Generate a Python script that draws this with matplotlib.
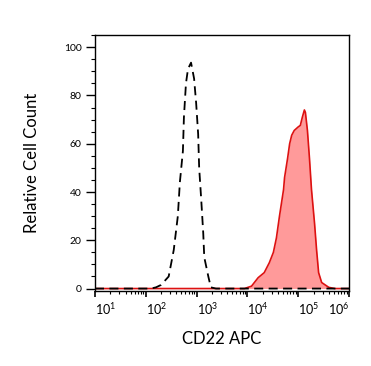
import numpy as np
import matplotlib.pyplot as plt
from matplotlib.ticker import FixedLocator, MultipleLocator, LogLocator, NullFormatter

plt.rcParams['font.family'] = ['Lato', 'DejaVu Sans']
plt.rcParams['mathtext.fontset'] = 'custom'
plt.rcParams['mathtext.rm'] = 'Lato'
plt.rcParams['mathtext.it'] = 'Lato:italic'

# isotype control (dashed), x as log10 of fluorescence
iso_log = [1.0, 2.10, 2.20, 2.30, 2.45, 2.55, 2.63, 2.67, 2.73, 2.75, 2.79, 2.83, 2.89,
           2.95, 2.99, 3.03, 3.05, 3.09, 3.13, 3.15, 3.23, 3.28, 3.38, 6.0]
iso_count = [0, 0, 0.5, 1.5, 5, 16, 30, 44, 57, 71, 85, 91, 93.6,
             87, 77, 64, 50, 37, 23, 13, 5, 0.5, 0, 0]

# CD22 APC stained sample (filled red)
cd22_log = [1.0, 3.94, 4.08, 4.21, 4.33, 4.43, 4.51, 4.57, 4.63, 4.71, 4.73, 4.79, 4.83,
            4.87, 4.92, 5.00, 5.04, 5.08, 5.12, 5.14, 5.18, 5.22, 5.26, 5.32, 5.36,
            5.40, 5.46, 5.60, 5.72, 6.0]
cd22_count = [0, 0, 1, 4.5, 6.6, 10.7, 15, 21, 30, 41, 46, 54, 60,
              63.5, 65.5, 67, 67.6, 71, 74, 73, 65.5, 54, 41, 27, 16,
              6.6, 2.5, 0.5, 0, 0]

decades = [1, 2, 3, 4, 5, 6]
ytick_vals = [0, 20, 40, 60, 80, 100]

iso_x = 10 ** np.array(iso_log)
cd22_x = 10 ** np.array(cd22_log)

fig = plt.figure(figsize=(3.71, 3.66), dpi=100)
ax = fig.add_axes([0.256, 0.205, 0.685, 0.699])

ax.fill_between(cd22_x, cd22_count, 0, color='#ff9a9a', linewidth=0)
ax.plot(cd22_x, cd22_count, color='#dd1111', linewidth=1.2)
ax.plot(iso_x, iso_count, color='black', linestyle=(0, (5, 3)), linewidth=1.3)

ax.set_xscale('log')
ax.set_xlim(10, 1e6)
ax.set_ylim(-1, 105)

ax.xaxis.set_major_locator(FixedLocator([10.0 ** d for d in decades]))
ax.set_xticklabels([r'$10^{%d}$' % d for d in decades])
ax.xaxis.set_minor_locator(LogLocator(base=10, subs=np.arange(2, 10)))
ax.xaxis.set_minor_formatter(NullFormatter())
for i, lbl in enumerate(ax.get_xticklabels()):
    if i == len(decades) - 1:
        lbl.set_horizontalalignment('right')
    else:
        lbl.set_horizontalalignment('left')

ax.set_yticks(ytick_vals)
ax.yaxis.set_minor_locator(MultipleLocator(5))

ax.tick_params(axis='y', which='major', length=6.5, width=1, labelsize=7.5, pad=3)
ax.tick_params(axis='y', which='minor', length=3, width=0.8)
ax.tick_params(axis='x', which='major', length=4.5, width=1.2, labelsize=9, pad=3)
ax.tick_params(axis='x', which='minor', length=2.2, width=0.8)

for s in ax.spines.values():
    s.set_linewidth(1.0)

ax.set_xlabel('CD22 APC', fontsize=12, labelpad=10)
ax.set_ylabel('Relative Cell Count', fontsize=12, labelpad=17)

fig.savefig('out.png', dpi=100)
